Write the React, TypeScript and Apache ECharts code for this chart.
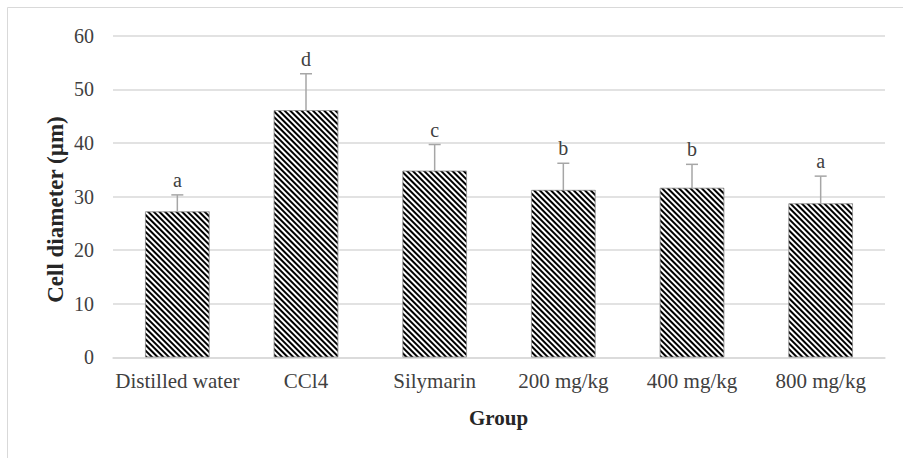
import React, { useEffect, useRef } from "react";
import * as echarts from "echarts";

const categories = ["Distilled water", "CCl4", "Silymarin", "200 mg/kg", "400 mg/kg", "800 mg/kg"];
const means = [27.2, 46.1, 34.8, 31.2, 31.6, 28.7];
const sds = [3.1, 6.8, 4.9, 5.0, 4.4, 5.1];
const letters = ["a", "d", "c", "b", "b", "a"];
const yTicks = { min: 0, max: 60, interval: 10 };

const SERIF = "Liberation Serif";

export default function App() {
  const ref = useRef<HTMLDivElement>(null);
  useEffect(() => {
    if (!ref.current) return;
    const chart = echarts.init(ref.current, undefined, { renderer: "svg" });
    chart.setOption({
      animation: false,
      backgroundColor: "#ffffff",
      aria: { enabled: true, decal: { show: true } },
      grid: { left: 113, right: 18, top: 35.7, bottom: 100.7 },
      xAxis: {
        type: "category",
        data: categories,
        axisLine: { show: true, lineStyle: { color: "#d9d9d9", width: 1.5 } },
        axisTick: { show: false },
        axisLabel: { color: "#404040", fontFamily: SERIF, fontSize: 21, margin: 13, interval: 0 },
      },
      yAxis: {
        type: "value",
        min: yTicks.min,
        max: yTicks.max,
        interval: yTicks.interval,
        axisLine: { show: false },
        axisTick: { show: false },
        splitLine: { lineStyle: { color: "#d9d9d9", width: 1.5 } },
        axisLabel: { color: "#404040", fontFamily: SERIF, fontSize: 20, margin: 19 },
      },
      graphic: [
        {
          type: "rect",
          shape: { x: 7.5, y: 7.5, width: 1000, height: 1000 },
          style: { fill: "none", stroke: "#d9d9d9", lineWidth: 1 },
          silent: true,
        },
        {
          type: "text",
          x: 55,
          y: 209.5,
          rotation: Math.PI / 2,
          style: {
            text: "Cell diameter (µm)",
            fontFamily: SERIF,
            fontWeight: "bold",
            fontSize: 23,
            fill: "#262626",
            textAlign: "center",
            textVerticalAlign: "middle",
          },
        },
        {
          type: "text",
          x: 498.5,
          y: 418,
          style: {
            text: "Group",
            fontFamily: SERIF,
            fontWeight: "bold",
            fontSize: 21,
            fill: "#262626",
            textAlign: "center",
            textVerticalAlign: "middle",
          },
        },
      ],
      series: [
        {
          type: "bar",
          data: means,
          barWidth: "50%",
          itemStyle: {
            color: "#ffffff",
            borderColor: "#9a9a9a",
            borderWidth: 0.6,
            decal: {
              symbol: "rect",
              symbolSize: 1,
              color: "#000000",
              dashArrayX: [1, 0],
              dashArrayY: [1.9, 1.9],
              rotation: Math.PI / 4,
            },
          },
          z: 2,
        },
        {
          type: "custom",
          data: means.map((m, i) => [i, m, sds[i]]),
          encode: { x: 0, y: 1 },
          z: 3,
          renderItem: (params: any, api: any) => {
            const i = params.dataIndex;
            const base = api.coord([i, means[i]]);
            const top = api.coord([i, means[i] + sds[i]]);
            const stroke = "#a6a6a6";
            return {
              type: "group",
              children: [
                {
                  type: "line",
                  shape: { x1: base[0], y1: base[1], x2: base[0], y2: top[1] },
                  style: { stroke, lineWidth: 1.5 },
                },
                {
                  type: "line",
                  shape: { x1: top[0] - 6, y1: top[1], x2: top[0] + 6, y2: top[1] },
                  style: { stroke, lineWidth: 1.5 },
                },
                {
                  type: "text",
                  x: top[0],
                  y: top[1] - 5,
                  style: {
                    text: letters[i],
                    fontFamily: SERIF,
                    fontSize: 20,
                    fill: "#404040",
                    textAlign: "center",
                    textVerticalAlign: "bottom",
                  },
                },
              ],
            };
          },
        },
      ],
    });
    return () => chart.dispose();
  }, []);
  return (
    <div
      ref={ref}
      style={{ position: "absolute", left: 0, top: 0, width: 903, height: 458 }}
    />
  );
}
